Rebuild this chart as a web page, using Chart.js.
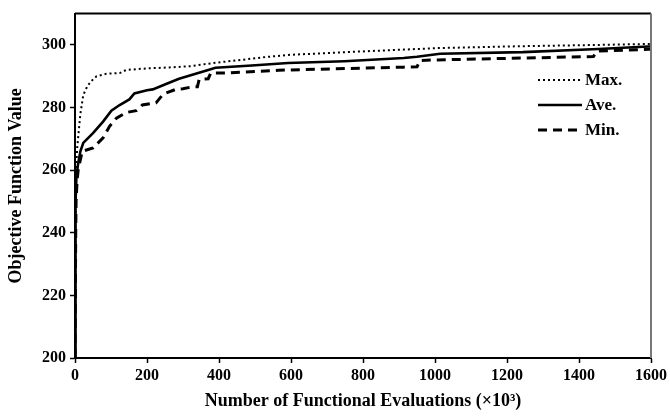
<!DOCTYPE html>
<html>
<head>
<meta charset="utf-8">
<script src="https://cdn.jsdelivr.net/npm/chart.js@4.4.0/dist/chart.umd.min.js"></script>
<style>
  html, body { margin: 0; padding: 0; background: #ffffff; }
  #wrap { width: 670px; height: 418px; position: relative; }
</style>
</head>
<body>
<div id="wrap"><canvas id="c" width="670" height="418"></canvas></div>
<script>
// ---- data (x in thousands of functional evaluations) ----
const seriesNames = ["Max.", "Ave.", "Min."];

const maxEvals  = [0, 1, 2, 4, 6, 10, 15, 23, 35, 50, 60, 87, 124, 142, 200, 262, 320, 390, 460, 528, 592, 683, 793, 913, 1013, 1244, 1409, 1592, 1600];
const maxValues = [200, 240, 255, 262, 267, 272, 278, 284, 287, 289, 290, 290.8, 291, 292, 292.5, 292.8, 293.2, 294.3, 295.2, 296.1, 296.8, 297.3, 297.9, 298.5, 299, 299.6, 299.9, 300.3, 300.3];

const aveEvals  = [0, 1, 2, 4, 9, 15, 23, 50, 78, 101, 124, 151, 165, 200, 216, 253, 289, 326, 370, 390, 491, 592, 748, 913, 950, 1014, 1244, 1454, 1592, 1600];
const aveValues = [200, 235, 250, 258, 262.3, 266, 268.7, 271.8, 275.5, 279, 280.8, 282.6, 284.5, 285.5, 285.8, 287.5, 289.2, 290.5, 292, 292.7, 293.4, 294.2, 294.8, 295.8, 296.2, 297.2, 297.7, 298.7, 299.5, 299.5];

const minEvals  = [0, 2, 3, 6, 9, 20, 50, 78, 96, 115, 142, 170, 187, 225, 245, 280, 300, 325, 340, 345, 370, 377, 420, 565, 913, 950, 958, 1000, 1244, 1440, 1450, 1592, 1600];
const minValues = [200, 240, 250, 257, 260.2, 266, 267.1, 270.3, 274, 276.6, 278.4, 279, 280.8, 281.5, 284.3, 285.8, 286, 286.6, 286.6, 289, 289.2, 291, 291, 291.9, 292.9, 293, 295, 295.2, 295.8, 296.3, 298, 298.6, 298.6];

const xTicks = [0, 200, 400, 600, 800, 1000, 1200, 1400, 1600];
const yTicks = [200, 220, 240, 260, 280, 300];

const toPoints = (xs, ys) => xs.map((x, i) => ({ x: x, y: ys[i] }));

const FONT = "'Liberation Serif', 'Times New Roman', serif";

// custom in-plot legend + frame
const framePlugin = {
  id: 'frame',
  afterDraw(chart) {
    const ctx = chart.ctx;
    const a = chart.chartArea;
    ctx.save();
    ctx.strokeStyle = '#000';
    ctx.lineWidth = 2;
    ctx.beginPath();
    ctx.moveTo(a.left, a.top);
    ctx.lineTo(a.right, a.top);
    ctx.stroke();
    ctx.strokeStyle = '#777';
    ctx.lineWidth = 2;
    ctx.beginPath();
    ctx.moveTo(a.right, a.top);
    ctx.lineTo(a.right, a.bottom);
    ctx.stroke();
    const lx0 = 538, lx1 = 582, tx = 585;
    const ys = [80, 105, 130];
    chart.data.datasets.forEach((ds, i) => {
      ctx.strokeStyle = ds.borderColor;
      ctx.lineWidth = ds.borderWidth;
      ctx.setLineDash(ds.borderDash || []);
      ctx.beginPath();
      ctx.moveTo(lx0, ys[i]);
      ctx.lineTo(lx1, ys[i]);
      ctx.stroke();
      ctx.setLineDash([]);
      ctx.fillStyle = '#000';
      ctx.font = 'bold 17px ' + FONT;
      ctx.textAlign = 'left';
      ctx.textBaseline = 'middle';
      ctx.fillText(ds.label, tx, ys[i] + 1);
    });
    ctx.restore();
  }
};

new Chart(document.getElementById('c'), {
  type: 'line',
  data: {
    datasets: [
      { label: seriesNames[0], data: toPoints(maxEvals, maxValues), borderColor: '#000', borderWidth: 2, borderDash: [2, 3], pointRadius: 0, tension: 0, fill: false },
      { label: seriesNames[1], data: toPoints(aveEvals, aveValues), borderColor: '#000', borderWidth: 2.6, pointRadius: 0, tension: 0, fill: false },
      { label: seriesNames[2], data: toPoints(minEvals, minValues), borderColor: '#000', borderWidth: 3, borderDash: [9, 6], pointRadius: 0, tension: 0, fill: false }
    ]
  },
  options: {
    responsive: false,
    animation: false,
    devicePixelRatio: 1,
    layout: { padding: { left: 0, top: 7, right: 14, bottom: 0 } },
    plugins: { legend: { display: false }, tooltip: { enabled: false } },
    scales: {
      x: {
        type: 'linear',
        min: 0, max: 1600,
        afterBuildTicks: (s) => { s.ticks = xTicks.map(v => ({ value: v })); },
        afterFit: (s) => { s.height = 60; },
        grid: { drawOnChartArea: false, drawTicks: true, tickLength: 5, color: '#000', tickWidth: 1.5 },
        border: { color: '#000', width: 2 },
        ticks: { color: '#000', font: { family: FONT, size: 16, weight: 'bold' }, padding: 3, maxRotation: 0, callback: (v) => String(v) },
        title: { display: true, text: 'Number of Functional Evaluations (\u00d710\u00b3)', color: '#000', font: { family: FONT, size: 18, weight: 'bold' }, padding: { top: 4, bottom: 6 } }
      },
      y: {
        type: 'linear',
        min: 200, max: 310,
        afterBuildTicks: (s) => { s.ticks = yTicks.map(v => ({ value: v })); },
        afterFit: (s) => { s.width = 75; },
        grid: { drawOnChartArea: false, drawTicks: true, tickLength: 5, color: '#000', tickWidth: 1.5 },
        border: { color: '#000', width: 2 },
        ticks: { color: '#000', font: { family: FONT, size: 16, weight: 'bold' }, padding: 4, callback: (v) => String(v) },
        title: { display: true, text: 'Objective Function Value', color: '#000', font: { family: FONT, size: 18, weight: 'bold' }, padding: { top: 6, bottom: 4 } }
      }
    }
  },
  plugins: [framePlugin]
});
</script>
</body>
</html>
